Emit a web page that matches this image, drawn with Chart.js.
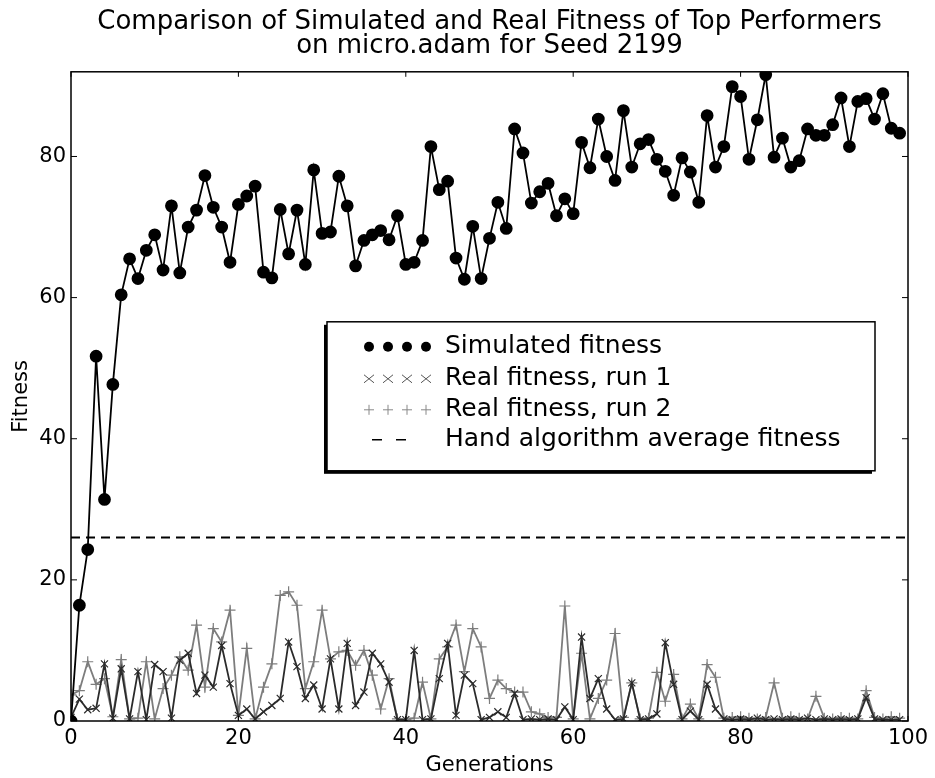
<!DOCTYPE html>
<html>
<head>
<meta charset="utf-8">
<script src="https://cdn.jsdelivr.net/npm/chart.js@4.4.1/dist/chart.umd.min.js"></script>
<style>
  html, body { margin: 0; padding: 0; background: #fff; }
  #wrap { width: 935px; height: 778px; }
</style>
</head>
<body>
<div id="wrap"><canvas id="chart" width="935" height="778"></canvas></div>
<script>
// generation index 0..99
const generations = Array.from({ length: 100 }, (_, i) => i);

const simulated = [
  0.0, 16.4, 24.3, 51.7, 31.4, 47.7, 60.4, 65.5, 62.7, 66.7,
  68.9, 63.9, 73.0, 63.5, 70.0, 72.4, 77.3, 72.8, 70.0, 65.0,
  73.2, 74.4, 75.8, 63.6, 62.8, 72.5, 66.2, 72.4, 64.7, 78.1,
  69.1, 69.3, 77.2, 73.0, 64.5, 68.1, 68.9, 69.5, 68.2, 71.6,
  64.7, 65.0, 68.1, 81.4, 75.3, 76.5, 65.6, 62.6, 70.1, 62.7,
  68.4, 73.5, 69.8, 83.9, 80.5, 73.4, 75.0, 76.2, 71.6, 74.0,
  71.9, 82.0, 78.4, 85.3, 80.0, 76.6, 86.5, 78.5, 81.8, 82.4,
  79.6, 77.9, 74.5, 79.8, 77.8, 73.5, 85.8, 78.5, 81.4, 89.9,
  88.5, 79.6, 85.2, 91.6, 79.9, 82.6, 78.5, 79.4, 83.9, 83.0,
  83.0, 84.5, 88.3, 81.4, 87.8, 88.2, 85.3, 88.9, 84.0, 83.3
];

const realRun1 = [
  0.5, 3.1, 1.6, 1.8, 8.1, 0.4, 7.4, 0.3, 7.0, 0.2,
  8.0, 7.0, 0.4, 8.6, 9.6, 3.9, 6.5, 4.8, 10.7, 5.3,
  0.8, 1.7, 0.3, 1.3, 2.2, 3.2, 11.2, 7.7, 3.2, 5.1,
  1.7, 8.8, 1.7, 11.0, 2.2, 4.1, 9.6, 8.1, 5.5, 0.2,
  0.2, 10.0, 0.2, 0.3, 6.0, 11.0, 0.8, 6.5, 5.3, 0.2,
  0.5, 1.3, 0.5, 3.9, 0.2, 0.3, 0.2, 0.3, 0.2, 2.0,
  0.2, 11.9, 3.2, 6.0, 1.7, 0.2, 0.3, 5.4, 0.2, 0.3,
  1.0, 11.1, 5.2, 0.2, 1.4, 0.2, 5.2, 1.7, 0.3, 0.2,
  0.3, 0.2, 0.4, 0.2, 0.3, 0.2, 0.3, 0.2, 0.4, 0.2,
  0.3, 0.2, 0.3, 0.2, 0.3, 3.3, 0.3, 0.2, 0.2, 0.2
];

const realRun2 = [
  3.7, 4.3, 8.4, 5.2, 6.0, 0.6, 8.7, 0.3, 0.4, 8.4,
  0.3, 4.6, 6.5, 9.1, 7.2, 13.6, 4.8, 13.1, 11.2, 15.7,
  0.8, 10.3, 0.3, 4.8, 8.1, 17.8, 18.3, 16.4, 4.6, 8.4,
  15.7, 8.8, 9.8, 10.0, 7.9, 10.0, 6.5, 1.7, 6.0, 0.3,
  0.2, 0.4, 5.5, 0.3, 8.8, 10.5, 13.6, 7.0, 13.1, 10.5,
  3.2, 5.8, 4.6, 4.1, 4.1, 1.3, 1.0, 0.5, 0.5, 16.3,
  0.3, 9.6, 0.3, 3.2, 5.8, 12.4, 0.5, 5.4, 0.3, 0.4,
  6.9, 2.8, 6.6, 0.3, 2.4, 0.3, 8.0, 6.2, 0.4, 0.5,
  0.6, 0.4, 0.3, 0.5, 5.4, 0.4, 0.6, 0.4, 0.3, 3.5,
  0.4, 0.3, 0.5, 0.4, 0.3, 4.3, 0.5, 0.3, 0.6, 0.4
];

const handAverage = 26;
const xTicks = [0, 20, 40, 60, 80, 100];
const yTicks = [0, 20, 40, 60, 80];
const titleLines = ['Comparison of Simulated and Real Fitness of Top Performers', 'on micro.adam for Seed 2199'];
const seriesNames = ['Simulated fitness', 'Real fitness, run 1', 'Real fitness, run 2', 'Hand algorithm average fitness'];

const FONT = 'DejaVu Sans';
const toPoints = values => values.map((y, i) => ({ x: generations[i], y }));

// box frame + inward tick marks, matplotlib style
const framePlugin = {
  id: 'frame',
  afterDraw(chart) {
    const { ctx, chartArea: a, scales } = chart;
    ctx.save();
    ctx.strokeStyle = '#000';
    ctx.lineWidth = 1.5;
    ctx.strokeRect(a.left, a.top, a.right - a.left, a.bottom - a.top);
    ctx.lineWidth = 1;
    ctx.beginPath();
    xTicks.forEach(v => {
      const px = scales.x.getPixelForValue(v);
      ctx.moveTo(px, a.bottom); ctx.lineTo(px, a.bottom - 5);
      ctx.moveTo(px, a.top); ctx.lineTo(px, a.top + 5);
    });
    yTicks.forEach(v => {
      const py = scales.y.getPixelForValue(v);
      ctx.moveTo(a.left, py); ctx.lineTo(a.left + 6, py);
      ctx.moveTo(a.right, py); ctx.lineTo(a.right - 6, py);
    });
    ctx.stroke();
    ctx.restore();
  }
};

const legendPlugin = {
  id: 'boxLegend',
  afterDraw(chart) {
    const { ctx, chartArea: a } = chart;
    const left = a.left + 256, top = a.top + 250, w = 548, h = 149;
    ctx.save();
    ctx.fillStyle = '#000';
    ctx.fillRect(left - 3, top + 3, w, h);
    ctx.fillStyle = '#fff';
    ctx.fillRect(left, top, w, h);
    ctx.strokeStyle = '#000';
    ctx.lineWidth = 1.5;
    ctx.strokeRect(left, top, w, h);

    const rows = [top + 25, top + 57, top + 88, top + 118];
    const mx = left + 42;
    // simulated dots
    ctx.fillStyle = '#000';
    for (let k = 0; k < 4; k++) {
      ctx.beginPath();
      ctx.arc(mx + k * 19, rows[0], 5, 0, Math.PI * 2);
      ctx.fill();
    }
    // x markers
    ctx.strokeStyle = '#555';
    ctx.lineWidth = 1;
    ctx.beginPath();
    for (let k = 0; k < 4; k++) {
      const cx = mx + k * 19, cy = rows[1];
      ctx.moveTo(cx - 5, cy - 4); ctx.lineTo(cx + 5, cy + 4);
      ctx.moveTo(cx - 5, cy + 4); ctx.lineTo(cx + 5, cy - 4);
    }
    ctx.stroke();
    ctx.strokeStyle = '#888';
    ctx.beginPath();
    for (let k = 0; k < 4; k++) {
      const cx = mx + k * 19, cy = rows[2];
      ctx.moveTo(cx - 5, cy); ctx.lineTo(cx + 5, cy);
      ctx.moveTo(cx, cy - 5); ctx.lineTo(cx, cy + 5);
    }
    ctx.stroke();
    ctx.strokeStyle = '#000';
    ctx.lineWidth = 1.5;
    ctx.beginPath();
    ctx.moveTo(mx + 3, rows[3]); ctx.lineTo(mx + 13, rows[3]);
    ctx.moveTo(mx + 27, rows[3]); ctx.lineTo(mx + 37, rows[3]);
    ctx.stroke();

    ctx.fillStyle = '#000';
    ctx.font = `25px "${FONT}"`;
    ctx.textBaseline = 'middle';
    ctx.textAlign = 'left';
    seriesNames.forEach((name, i) => ctx.fillText(name, left + 118, rows[i]));
    ctx.restore();
  }
};

new Chart(document.getElementById('chart'), {
  type: 'line',
  data: {
    datasets: [
      {
        label: seriesNames[0],
        data: toPoints(simulated),
        borderColor: '#000',
        backgroundColor: '#000',
        borderWidth: 1.8,
        pointRadius: 5.5,
        pointStyle: 'circle',
        order: 1
      },
      {
        label: seriesNames[1],
        data: toPoints(realRun1),
        borderColor: '#2b2b2b',
        backgroundColor: '#2b2b2b',
        borderWidth: 1.8,
        pointRadius: 5,
        pointBorderWidth: 1.2,
        pointStyle: 'crossRot',
        order: 2
      },
      {
        label: seriesNames[2],
        data: toPoints(realRun2),
        borderColor: '#7d7d7d',
        backgroundColor: '#7d7d7d',
        borderWidth: 1.8,
        pointRadius: 5.5,
        pointBorderWidth: 1.2,
        pointStyle: 'cross',
        order: 3
      },
      {
        label: seriesNames[3],
        data: [{ x: xTicks[0], y: handAverage }, { x: xTicks[xTicks.length - 1], y: handAverage }],
        borderColor: '#000',
        borderWidth: 2,
        borderDash: [9, 6],
        pointRadius: 0,
        order: 0
      }
    ]
  },
  options: {
    responsive: false,
    animation: false,
    devicePixelRatio: 1,
    layout: { padding: { top: 0, right: 27, left: 0, bottom: 0 } },
    elements: { line: { tension: 0 } },
    plugins: {
      legend: { display: false },
      tooltip: { enabled: false },
      title: {
        display: true,
        fullSize: false,
        text: titleLines,
        color: '#000',
        font: { family: FONT, size: 26, weight: 'normal', lineHeight: 0.9 },
        padding: { top: 11, bottom: 14 }
      }
    },
    scales: {
      x: {
        type: 'linear',
        min: 0,
        max: 100,
        afterBuildTicks: s => { s.ticks = xTicks.map(v => ({ value: v })); },
        afterFit: s => { s.height = 57; },
        grid: { display: false, drawTicks: false },
        border: { display: false },
        ticks: { color: '#000', font: { family: FONT, size: 21 }, padding: 5, maxRotation: 0 },
        title: { display: true, text: 'Generations', color: '#000', font: { family: FONT, size: 21 }, padding: { top: 0, bottom: 0 } }
      },
      y: {
        min: 0,
        max: 92,
        afterBuildTicks: s => { s.ticks = yTicks.map(v => ({ value: v })); },
        afterFit: s => { s.width = 71; },
        grid: { display: false, drawTicks: false },
        border: { display: false },
        ticks: { color: '#000', font: { family: FONT, size: 21 }, padding: 5 },
        title: { display: true, text: 'Fitness', color: '#000', font: { family: FONT, size: 21 }, padding: { top: 9, bottom: 0 } }
      }
    }
  },
  plugins: [framePlugin, legendPlugin]
});
</script>
</body>
</html>
